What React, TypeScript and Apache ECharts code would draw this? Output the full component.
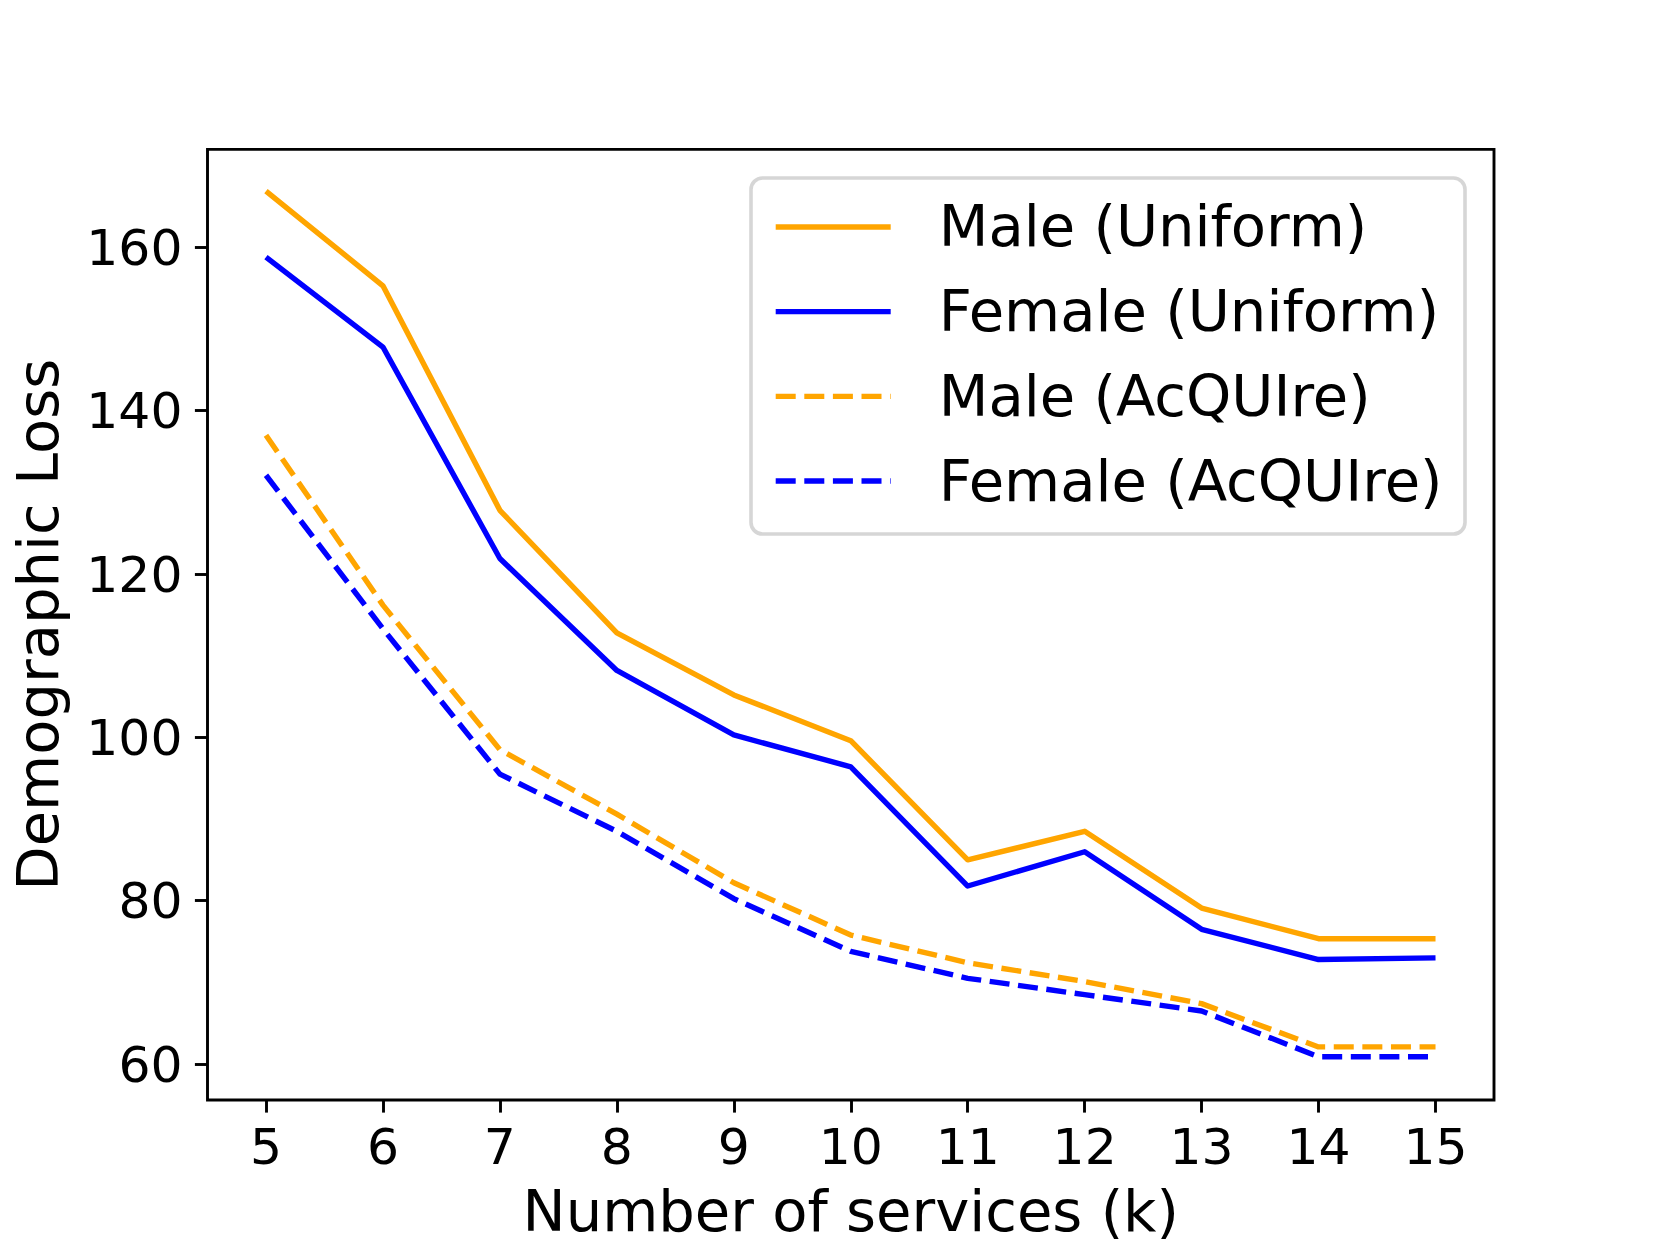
import React, { useEffect, useRef } from "react";
import * as echarts from "echarts";

const kValues = [5, 6, 7, 8, 9, 10, 11, 12, 13, 14, 15];
const maleUniform = [166.9, 155.3, 127.8, 112.8, 105.2, 99.6, 85.0, 88.5, 79.1, 75.35, 75.35];
const femaleUniform = [158.8, 147.8, 121.9, 108.2, 100.3, 96.4, 81.8, 86.0, 76.5, 72.8, 73.0];
const maleAcquire = [137.0, 116.2, 98.5, 90.6, 82.2, 75.8, 72.4, 70.1, 67.4, 62.1, 62.1];
const femaleAcquire = [132.1, 113.3, 95.5, 88.5, 80.25, 73.8, 70.5, 68.5, 66.5, 60.9, 60.9];
const yTicks = [60, 80, 100, 120, 140, 160];
const seriesNames = ["Male (Uniform)", "Female (Uniform)", "Male (AcQUIre)", "Female (AcQUIre)"];

const ORANGE = "#FFA500";
const BLUE = "#0000FF";
const FONT = "DejaVu Sans";

function pairs(vals: number[]) {
  return kValues.map((k, i) => [k, vals[i]]);
}

export default function App() {
  const ref = useRef<HTMLDivElement>(null);
  useEffect(() => {
    document.body.style.margin = "0";
    if (!ref.current) return;
    const chart = echarts.init(ref.current, null, { renderer: "svg" });
    const lw = 5.4;
    const dash = [20, 8.6];
    const mk = (name: string, vals: number[], color: string, dashed: boolean) => ({
      name,
      type: "line",
      data: pairs(vals),
      symbol: "none",
      showSymbol: false,
      lineStyle: { color, width: lw, type: dashed ? dash : "solid", cap: "butt", join: "round" },
      itemStyle: { color },
      z: 2,
    });
    chart.setOption({
      animation: false,
      backgroundColor: "#ffffff",
      grid: {
        left: 207.5,
        right: 166,
        top: 149.4,
        bottom: 137,
        show: true,
        borderColor: "#000",
        borderWidth: 2.9,
        backgroundColor: "transparent",
        z: 5,
      },
      xAxis: {
        type: "value",
        min: 4.5,
        max: 15.5,
        name: "Number of services (k)",
        nameLocation: "middle",
        nameGap: 82,
        nameTextStyle: { fontFamily: FONT, fontSize: 57.6, color: "#000" },
        axisLine: { show: false },
        splitLine: { show: false },
        axisTick: {
          show: true,
          length: 12.6,
          inside: false,
          customValues: kValues,
          lineStyle: { color: "#000", width: 2.9 },
        },
        axisLabel: {
          customValues: kValues,
          margin: 21,
          fontFamily: FONT,
          fontSize: 50.4,
          color: "#000",
        },
      },
      yAxis: {
        type: "value",
        min: 55.6,
        max: 172.0,
        name: "Demographic Loss",
        nameLocation: "middle",
        nameGap: 140,
        nameTextStyle: { fontFamily: FONT, fontSize: 57.6, color: "#000" },
        axisLine: { show: false },
        splitLine: { show: false },
        axisTick: {
          show: true,
          length: 12.6,
          inside: false,
          customValues: yTicks,
          lineStyle: { color: "#000", width: 2.9 },
        },
        axisLabel: {
          customValues: yTicks,
          margin: 25,
          fontFamily: FONT,
          fontSize: 50.4,
          color: "#000",
        },
      },
      legend: {
        data: seriesNames,
        orient: "vertical",
        left: 773,
        top: 184.6,
        padding: 0,
        itemGap: 0,
        itemWidth: 115,
        itemHeight: 20,
        itemStyle: { color: "rgba(0,0,0,0)", borderWidth: 0 },
        lineStyle: { width: lw },
        textStyle: {
          fontFamily: FONT,
          fontSize: 57.6,
          color: "#000",
          lineHeight: 84.7,
          padding: [0, 0, 0, 43],
        },
        selectedMode: false,
        z: 6,
      },
      graphic: [
        {
          type: "rect",
          z: 4,
          shape: { x: 751, y: 178, width: 714, height: 356, r: 11.5 },
          style: {
            fill: "rgba(255,255,255,0.8)",
            stroke: "rgba(204,204,204,0.8)",
            lineWidth: 3.6,
          },
        },
      ],
      series: [
        mk(seriesNames[0], maleUniform, ORANGE, false),
        mk(seriesNames[1], femaleUniform, BLUE, false),
        mk(seriesNames[2], maleAcquire, ORANGE, true),
        mk(seriesNames[3], femaleAcquire, BLUE, true),
      ],
    });
    return () => chart.dispose();
  }, []);
  return <div ref={ref} style={{ width: 1660, height: 1245 }} />;
}
